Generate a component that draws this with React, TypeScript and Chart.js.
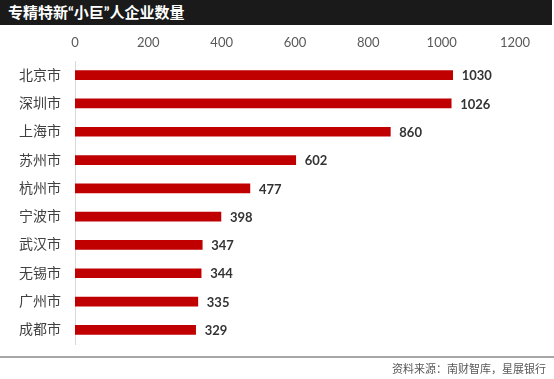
import React, { useEffect, useRef } from "react";
import { Chart, registerables } from "chart.js";

Chart.register(...registerables);

const categories = ["北京市", "深圳市", "上海市", "苏州市", "杭州市", "宁波市", "武汉市", "无锡市", "广州市", "成都市"];
const values = [1030, 1026, 860, 602, 477, 398, 347, 344, 335, 329];
const titleText = "专精特新“小巨”人企业数量";
const sourceText = "资料来源：南财智库，星展银行";

const FONT = "Lato, 'Noto Sans CJK SC', sans-serif";

const labelPlugin = {
  id: "barLabels",
  afterDatasetsDraw(chart: any) {
    const ctx = chart.ctx;
    const meta = chart.getDatasetMeta(0);
    ctx.save();
    ctx.font = `bold 13px ${FONT}`;
    ctx.fillStyle = "#333333";
    ctx.textAlign = "left";
    ctx.textBaseline = "middle";
    meta.data.forEach((bar: any, i: number) => {
      ctx.fillText(String(values[i]), bar.x + 9, bar.y + 1);
    });
    ctx.restore();
  },
};

export default function App() {
  const ref = useRef<HTMLCanvasElement>(null);
  useEffect(() => {
    if (!ref.current) return;
    const chart = new Chart(ref.current, {
      type: "bar",
      data: {
        labels: categories,
        datasets: [
          {
            data: values,
            backgroundColor: "#C00000",
            barThickness: 9,
          },
        ],
      },
      options: {
        indexAxis: "y",
        animation: false,
        responsive: false,
        maintainAspectRatio: false,
        layout: { padding: { top: 25, left: 0, right: 39, bottom: 35 } },
        plugins: { legend: { display: false }, tooltip: { enabled: false }, title: { display: false } },
        scales: {
          x: {
            position: "top",
            min: 0,
            max: 1200,
            ticks: {
              stepSize: 200,
              color: "#595959",
              font: { family: FONT, size: 13 },
              padding: 10,
              callback: (v: any) => String(v),
            },
            grid: { display: false, drawTicks: false },
            border: { display: false },
            afterFit: (s: any) => {
              s.height = 36;
            },
          },
          y: {
            ticks: { color: "#404040", font: { family: FONT, size: 14 }, padding: 14 },
            grid: { display: false, drawTicks: false },
            border: { display: true, color: "#d9d9d9", width: 1 },
            afterFit: (s: any) => {
              s.width = 75;
            },
          },
        },
      },
      plugins: [labelPlugin],
    });
    return () => chart.destroy();
  }, []);

  return (
    <div style={{ position: "relative", width: 554, height: 379, background: "#fff", fontFamily: FONT }}>
      <style>{`body{margin:0}`}</style>
      <canvas ref={ref} width={554} height={379} style={{ position: "absolute", left: 0, top: 0 }} />
      <div
        style={{
          position: "absolute",
          left: 0,
          top: 0,
          width: 552,
          height: 25,
          background: "#1a1a1a",
          color: "#fff",
          fontWeight: "bold",
          fontSize: 15,
          lineHeight: "25px",
          paddingLeft: 8,
          boxSizing: "border-box",
        }}
      >
        {titleText}
      </div>
      <div style={{ position: "absolute", left: 0, top: 356, width: 554, height: 2, background: "#a6a6a6" }} />
      <div
        style={{
          position: "absolute",
          right: 8,
          top: 361,
          fontSize: 11,
          color: "#595959",
          lineHeight: "16px",
        }}
      >
        {sourceText}
      </div>
    </div>
  );
}
